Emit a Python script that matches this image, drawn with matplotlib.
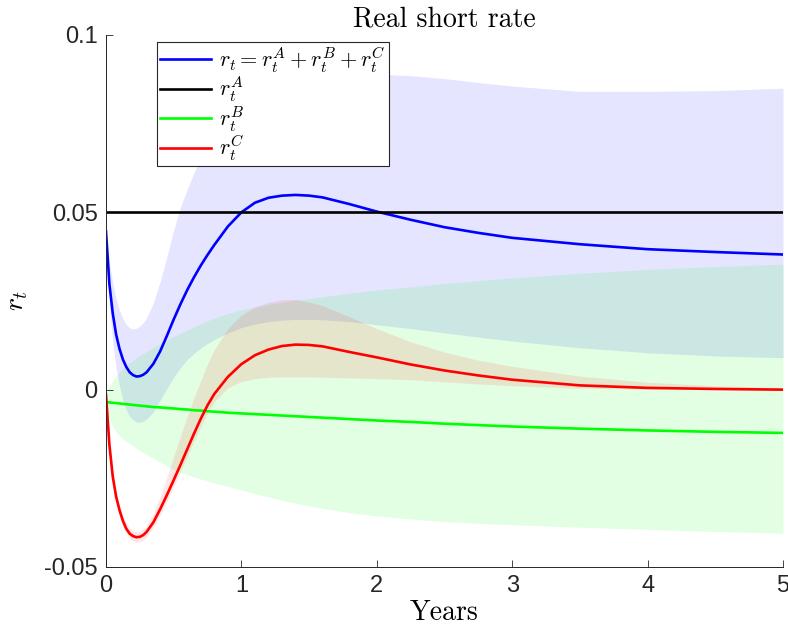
import numpy as np
import matplotlib
matplotlib.use("Agg")
import matplotlib.pyplot as plt

plt.rcParams['mathtext.fontset'] = 'cm'
plt.rcParams['font.family'] = ['Liberation Sans', 'DejaVu Sans']

# horizon in years
t = [0, 0.025, 0.05, 0.075, 0.1,
     0.125, 0.15, 0.175, 0.2,
     0.225, 0.25, 0.275, 0.3,
     0.35, 0.4, 0.45, 0.5,
     0.55, 0.6, 0.65, 0.7,
     0.75, 0.8, 0.9, 1.0,
     1.1, 1.2, 1.3, 1.4,
     1.5, 1.6, 1.8, 2.0,
     2.25, 2.5, 2.75, 3.0,
     3.5, 4.0, 4.5, 5.0]

# r_t (total) with band
r_tot = [0.0446, 0.0298, 0.0215, 0.0155, 0.0115,
         0.0085, 0.0064, 0.0049, 0.0041,
         0.0037, 0.0038, 0.0042, 0.0049,
         0.0073, 0.0108, 0.0152, 0.0198,
         0.0241, 0.0281, 0.0317, 0.0350,
         0.0380, 0.0408, 0.0460, 0.0500,
         0.0527, 0.0541, 0.0547, 0.0549,
         0.0547, 0.0542, 0.0523, 0.0502,
         0.0479, 0.0458, 0.0442, 0.0428,
         0.0410, 0.0396, 0.0388, 0.0381]
r_tot_hi = [0.0446, 0.0360, 0.0300, 0.0255, 0.0224,
            0.0200, 0.0184, 0.0174, 0.0171,
            0.0173, 0.0179, 0.0189, 0.0203,
            0.0245, 0.0305, 0.0375, 0.0450,
            0.0515, 0.0565, 0.0612, 0.0655,
            0.0695, 0.0728, 0.0780, 0.0818,
            0.0843, 0.0858, 0.0869, 0.0877,
            0.0883, 0.0887, 0.0891, 0.0890,
            0.0885, 0.0877, 0.0866, 0.0856,
            0.0841, 0.0841, 0.0843, 0.0850]
r_tot_lo = [0.0446, 0.0240, 0.0135, 0.0060, 0.0010,
            -0.0030, -0.0058, -0.0076, -0.0086,
            -0.0091, -0.0092, -0.0089, -0.0083,
            -0.0062, -0.0030, 0.0003, 0.0035,
            0.0062, 0.0085, 0.0102, 0.0117,
            0.0130, 0.0141, 0.0160, 0.0175,
            0.0185, 0.0192, 0.0196, 0.0198,
            0.0198, 0.0197, 0.0192, 0.0183,
            0.0172, 0.0160, 0.0148, 0.0137,
            0.0118, 0.0104, 0.0095, 0.0090]

# r^A is constant
t_A = [0, 5]
r_A = [0.05, 0.05]

# r^B with band
r_B = [-0.0035, -0.0036, -0.0037, -0.0038, -0.0039,
       -0.0040, -0.0041, -0.0042, -0.0043,
       -0.0044, -0.0045, -0.0046, -0.0047,
       -0.0049, -0.0050, -0.0052, -0.0053,
       -0.0055, -0.0056, -0.0058, -0.0059,
       -0.0061, -0.0062, -0.0065, -0.0067,
       -0.0069, -0.0071, -0.0073, -0.0075,
       -0.0077, -0.0079, -0.0083, -0.0087,
       -0.0091, -0.0096, -0.0100, -0.0104,
       -0.0110, -0.0115, -0.0119, -0.0122]
r_B_hi = [-0.0010, 0.0010, 0.0025, 0.0038, 0.0050,
          0.0059, 0.0068, 0.0076, 0.0083,
          0.0090, 0.0096, 0.0102, 0.0108,
          0.0119, 0.0130, 0.0140, 0.0150,
          0.0159, 0.0168, 0.0177, 0.0185,
          0.0194, 0.0202, 0.0215, 0.0225,
          0.0233, 0.0240, 0.0246, 0.0252,
          0.0257, 0.0262, 0.0272, 0.0281,
          0.0290, 0.0299, 0.0307, 0.0315,
          0.0328, 0.0339, 0.0347, 0.0354]
r_B_lo = [-0.0060, -0.0085, -0.0105, -0.0120, -0.0130,
          -0.0139, -0.0146, -0.0153, -0.0160,
          -0.0166, -0.0172, -0.0178, -0.0183,
          -0.0194, -0.0205, -0.0215, -0.0225,
          -0.0233, -0.0240, -0.0246, -0.0252,
          -0.0258, -0.0263, -0.0273, -0.0283,
          -0.0293, -0.0303, -0.0312, -0.0320,
          -0.0328, -0.0335, -0.0347, -0.0356,
          -0.0365, -0.0372, -0.0377, -0.0381,
          -0.0388, -0.0394, -0.0400, -0.0405]

# r^C with band
r_C = [-0.0014, -0.0155, -0.0245, -0.0302, -0.0340,
       -0.0370, -0.0392, -0.0406, -0.0413,
       -0.0416, -0.0415, -0.0410, -0.0401,
       -0.0374, -0.0337, -0.0297, -0.0255,
       -0.0212, -0.0168, -0.0124, -0.0082,
       -0.0044, -0.0012, 0.0036, 0.0072,
       0.0097, 0.0113, 0.0123, 0.0127,
       0.0126, 0.0122, 0.0106, 0.0091,
       0.0071, 0.0054, 0.0040, 0.0028,
       0.0012, 0.0005, 0.0002, 0.0000]
r_C_hi = [-0.0010, -0.0143, -0.0230, -0.0287, -0.0325,
          -0.0355, -0.0377, -0.0391, -0.0398,
          -0.0401, -0.0399, -0.0393, -0.0383,
          -0.0349, -0.0302, -0.0246, -0.0188,
          -0.0131, -0.0076, -0.0023, 0.0026,
          0.0073, 0.0113, 0.0172, 0.0210,
          0.0233, 0.0246, 0.0253, 0.0254,
          0.0247, 0.0237, 0.0205, 0.0172,
          0.0135, 0.0106, 0.0083, 0.0066,
          0.0038, 0.0021, 0.0011, 0.0006]
r_C_lo = [-0.0018, -0.0167, -0.0258, -0.0316, -0.0355,
          -0.0385, -0.0406, -0.0420, -0.0427,
          -0.0430, -0.0429, -0.0424, -0.0415,
          -0.0389, -0.0353, -0.0314, -0.0273,
          -0.0231, -0.0188, -0.0145, -0.0104,
          -0.0066, -0.0034, 0.0005, 0.0023,
          0.0031, 0.0035, 0.0036, 0.0036,
          0.0036, 0.0035, 0.0033, 0.0031,
          0.0028, 0.0022, 0.0016, 0.0011,
          0.0004, 0.0001, 0.0000, -0.0001]

yticks = [-0.05, 0, 0.05, 0.1]
yticklabels = ['-0.05', '0', '0.05', '0.1']
xticks = [0, 1, 2, 3, 4, 5]

fig = plt.figure(figsize=(7.88, 6.38), dpi=100)
ax = fig.add_axes([0.1345, 0.1113, 0.8592, 0.8339])

ax.fill_between(t, r_tot_lo, r_tot_hi, color=(0, 0, 1), alpha=0.1, lw=0)
ax.fill_between(t, r_B_lo, r_B_hi, color=(0, 1, 0), alpha=0.11, lw=0)
ax.fill_between(t, r_C_lo, r_C_hi, color=(1, 0, 0), alpha=0.1, lw=0)

ax.plot(t, r_tot, color='#0000ff', lw=1.9, label=r'$r_t = r_t^A + r_t^B + r_t^C$')
ax.plot(t_A, r_A, color='black', lw=1.9, label=r'$r_t^A$')
ax.plot(t, r_B, color='#00ff00', lw=1.9, label=r'$r_t^B$')
ax.plot(t, r_C, color='#ff0000', lw=1.9, label=r'$r_t^C$')

ax.set_xlim(0, 5)
ax.set_ylim(-0.05, 0.1)
ax.set_xticks(xticks)
ax.set_xticklabels([str(v) for v in xticks])
ax.set_yticks(yticks)
ax.set_yticklabels(yticklabels)
ax.tick_params(direction='in', length=5, width=0.6, color='#262626',
               labelsize=17, labelcolor='#262626', pad=6)

for s in ['top', 'right']:
    ax.spines[s].set_visible(False)
for s in ['left', 'bottom']:
    ax.spines[s].set_color('#262626')
    ax.spines[s].set_linewidth(0.7)

ax.set_title('Real short rate', fontfamily='cmr10', fontsize=20, pad=6)
ax.set_xlabel('Years', fontfamily='cmr10', fontsize=20, labelpad=2)
ax.set_ylabel(r'$r_t$', fontsize=20, labelpad=10)

leg = ax.legend(loc='upper left', bbox_to_anchor=(0.0753, 0.9868), borderaxespad=0,
                fontsize=16, frameon=True, fancybox=False, framealpha=1,
                edgecolor='#262626', handlelength=2.3, handletextpad=0.35,
                labelspacing=0.0, borderpad=0.15)
leg.get_frame().set_linewidth(0.8)

fig.savefig('out.png', dpi=100)
